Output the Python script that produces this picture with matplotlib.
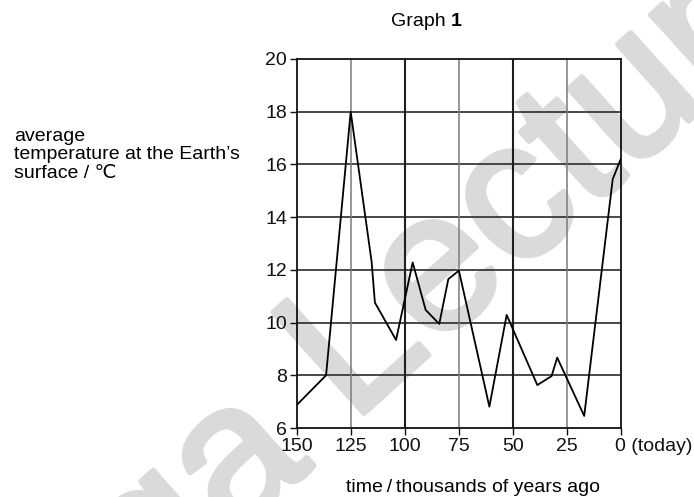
import matplotlib
matplotlib.use("Agg")
import matplotlib.pyplot as plt
import matplotlib.transforms as mtransforms

plt.rcParams["font.family"] = ["Liberation Sans", "DejaVu Sans"]

# data (thousands of years ago, temperature / degC)
years_ago = [150, 136.4, 125, 115.3, 113.8, 104.0, 96.3, 90.3, 84.0, 79.8,
             74.9, 60.8, 52.8, 38.6, 32.0, 29.4, 16.9, 3.7, 0]
temps = [6.87, 8.0, 18.0, 12.3, 10.76, 9.34, 12.28, 10.48, 9.95, 11.65,
         11.97, 6.81, 10.29, 7.63, 7.97, 8.67, 6.46, 15.44, 16.2]

x_ticks = [150, 125, 100, 75, 50, 25, 0]
x_tick_labels = ["150", "125", "100", "75", "50", "25", "0 (today)"]
y_ticks = [6, 8, 10, 12, 14, 16, 18, 20]

fig = plt.figure(figsize=(6.94, 4.97), dpi=100)
ax = fig.add_axes([0.4275, 0.1388, 0.4669, 0.7425])
ax.set_facecolor("none")

# watermark, behind the axes
wm = dict(fontsize=142, color="#dadada", rotation=42,
          rotation_mode="anchor", va="baseline", zorder=-5)
wm_stroke = dict(path_effects=[])
import matplotlib.patheffects as pe
wm_stroke["path_effects"] = [pe.withStroke(linewidth=4, foreground="#dadada")]
fig.text(352 / 694, 1 - 424 / 497, "Lecture", ha="left", **wm, **wm_stroke)
fig.text(314 / 694, 1 - 466 / 497, "Mega", ha="right", **wm, **wm_stroke)

# grid
for y in y_ticks[1:-1]:
    ax.axhline(y, color="#2a2a2a", lw=1.2, zorder=1)
for x in [125, 75, 25]:
    ax.axvline(x, color="#7a7a7a", lw=1.1, zorder=1)
for x in [100, 50]:
    ax.axvline(x, color="#1e1e1e", lw=1.5, zorder=1)

ax.plot(years_ago, temps, color="black", lw=1.3, zorder=3)

ax.set_xlim(150, 0)
ax.set_ylim(6, 20)
ax.set_xticks(x_ticks)
ax.set_xticklabels(x_tick_labels)
ax.set_yticks(y_ticks)
ax.tick_params(direction="out", length=5, width=1, labelsize=14, pad=2,
               colors="#111111")
for s in ax.spines.values():
    s.set_color("#111111")
    s.set_linewidth(1.3)

# "0" of "0 (today)" sits on its tick, the rest runs to the right
last = ax.get_xticklabels()[-1]
last.set_horizontalalignment("left")
last.set_transform(last.get_transform() +
                   mtransforms.ScaledTranslation(-5.4 / 100, 0, fig.dpi_scale_trans))

# title "Graph 1" with bold number
fig.text(0.650, 1 - 22 / 497, "Graph ", ha="right", va="center", fontsize=14)
fig.text(0.650, 1 - 22 / 497, "1", ha="left", va="center", fontsize=14,
         fontweight="bold")

fig.text(14 / 694, 1 - 155 / 497,
         "average\ntemperature at the Earth\u2019s\nsurface / \u2103",
         ha="left", va="center", fontsize=14, linespacing=1.15)

fig.text(473 / 694, 1 - 488 / 497, "time\u2009/\u2009thousands of years ago",
         ha="center", va="center", fontsize=14)

fig.savefig("out.png", dpi=100)
